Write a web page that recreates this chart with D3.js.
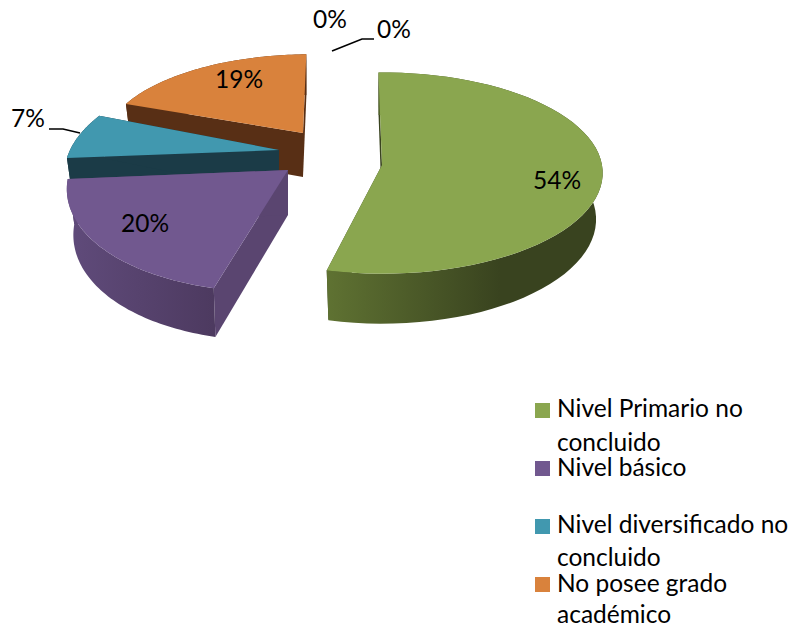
<!DOCTYPE html>
<html><head><meta charset="utf-8">
<script src="https://cdn.jsdelivr.net/npm/d3@7"></script>
<style>html,body{margin:0;padding:0;background:#fff}svg{display:block}text{font-family:Lato,"Open Sans",sans-serif;fill:#000}</style>
</head><body><div id="chart"></div>
<script>
const categories = ["Nivel Primario no concluido","Nivel básico","Nivel diversificado no concluido","No posee grado académico"];
const values = [54,20,7,19,0,0];
const labels = ["54%","20%","7%","19%","0%","0%"];
const colors = ["#8AA64F","#71588F","#4198AF","#D9823C"];
const sideColors = ["#39431F","#5A4570","#1B3B47","#582F15"];
const wallStops = [["#5F7232","#39431F"],["#604B7B","#4D3A60"],["#1B3B47","#1B3B47"],["#582F15","#582F15"]];
const legendLines = [["Nivel Primario no","concluido"],["Nivel básico"],["Nivel diversificado no","concluido"],["No posee grado","académico"]];

const W=794,H=629;
const svg=d3.select("#chart").append("svg").attr("width",W).attr("height",H);
const defs=svg.append("defs");

// Placement of each exploded, foreshortened slice: apex, radii, skew and thickness.
const place=[
  {ax:382,ay:165,rx:220,ry:100,sk:0, depth:46},
  {ax:288,ay:170,rx:218,ry:112,sk:20,depth:45},
  {ax:279,ay:150,rx:209,ry:100,sk:30,depth:44},
  {ax:303,ay:133,rx:197,ry:85, sk:6.5,depth:44}
];
const persp=0.08, taper=0.03;
const pie=d3.pie().sort(null).startAngle(-Math.PI/180).endAngle(359*Math.PI/180);
const arcs=pie(values);

function project(i,r,a,h){
  const P=place[i], s=r*Math.sin(a), c=r*Math.cos(a), w=1+persp*c;
  const x=d3.scaleLinear().domain([0,1]).range([P.ax,P.ax+P.rx*(1-taper*h)]);
  const y=d3.scaleLinear().domain([0,1]).range([P.ay,P.ay-P.ry]);
  return [x(s/w)+P.sk*c, y(c/w)+h*P.depth/w];
}
const line=d3.line();
const steps=d=>d3.range(0,61).map(k=>d.startAngle+(d.endAngle-d.startAngle)*k/60);

[3,2,1,0].forEach(i=>{
  const d=arcs[i];
  const g=svg.append("g");
  const as=steps(d);
  const grad=defs.append("linearGradient").attr("id","wall"+i).attr("gradientUnits","userSpaceOnUse")
    .attr("x1",i===0?327:67).attr("x2",i===0?500:213).attr("y1",0).attr("y2",0);
  grad.append("stop").attr("offset",0).attr("stop-color",wallStops[i][0]);
  grad.append("stop").attr("offset",1).attr("stop-color",wallStops[i][1]);
  [d.startAngle,d.endAngle].forEach(a=>{
    g.append("path").attr("fill",sideColors[i]).attr("d",line([
      project(i,0,a,0),project(i,1,a,0),project(i,1,a,1),project(i,0,a,1)])+"Z");
  });
  g.append("path").attr("fill",`url(#wall${i})`).attr("d",line(
    as.map(a=>project(i,1,a,0)).concat(as.slice().reverse().map(a=>project(i,1,a,1))))+"Z");
  g.append("path").attr("fill",colors[i]).attr("d",line(
    [project(i,0,0,0)].concat(as.map(a=>project(i,1,a,0))))+"Z");
});

const fs=24.5;
const labelPos=[[557,189],[145,232],[28,127],[239,88],[330,28],[394,38]];
svg.append("g").selectAll("text").data(labels).join("text")
  .attr("x",(d,i)=>labelPos[i][0]).attr("y",(d,i)=>labelPos[i][1])
  .attr("text-anchor","middle").attr("font-size",fs).text(d=>d);

const leaders=[[[332,51],[362,39],[374,39]],[[49,129],[63,129],[80,133]]];
svg.append("g").selectAll("path").data(leaders).join("path")
  .attr("d",d=>line(d)).attr("fill","none").attr("stroke","#000").attr("stroke-width",1.6);

const legendY=[418,476,534,592];
const lineY=[[417,451],[476],[533,566],[592,623]];
const lg=svg.append("g");
categories.forEach((c,i)=>{
  lg.append("rect").attr("x",535).attr("y",legendY[i]-15).attr("width",15).attr("height",15).attr("fill",colors[i]);
  legendLines[i].forEach((t,j)=>{
    lg.append("text").attr("x",557).attr("y",lineY[i][j]).attr("font-size",fs).text(t);
  });
});
</script></body></html>
